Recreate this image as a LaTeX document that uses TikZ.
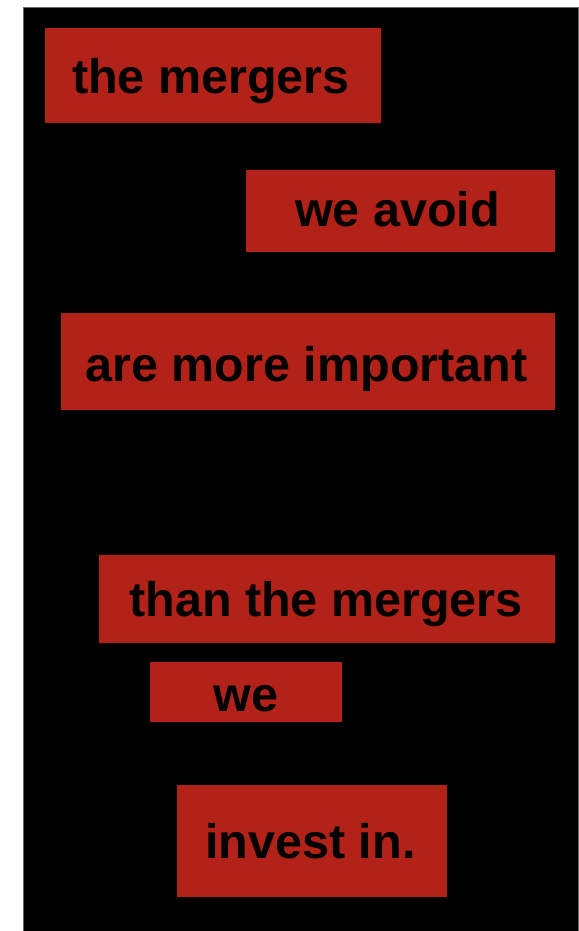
\documentclass[tikz,border=0pt]{standalone}
\usepackage{fontspec}
\setmainfont{Liberation Sans}
\definecolor{boxred}{HTML}{B22218}
\begin{document}
\begin{tikzpicture}[x=1pt,y=-1pt,
  wordbox/.style={fill=boxred,draw=none,inner sep=0pt},
  word/.style={font=\fontsize{48.5}{54}\selectfont\bfseries,text=black,inner sep=0pt,anchor=base}]
\useasboundingbox (0,0) rectangle (578,931);
\fill[white] (0,0) rectangle (578,931);
\filldraw[fill=black,draw=black!60,line width=0.6pt] (23,7.5) rectangle (578,931);
\fill[wordbox] (45,28) rectangle (381,123);
\node[word] (t1) at (211,94) {the mergers};
\fill[wordbox] (246,170) rectangle (555,252);
\node[word] (t2) at (397.5,226.7) {we avoid};
\fill[wordbox] (61,313) rectangle (555,410);
\node[word] (t3) at (306.5,381.7) {are more important};
\fill[wordbox] (99,555) rectangle (555,643);
\node[word] (t4) at (326,616.7) {than the mergers};
\fill[wordbox] (150,662) rectangle (342,722);
\node[word] (t5) at (246,711) {we};
\fill[wordbox] (177,785) rectangle (447,897);
\node[word] (t6) at (310.5,858) {invest in.};
\end{tikzpicture}
\end{document}
